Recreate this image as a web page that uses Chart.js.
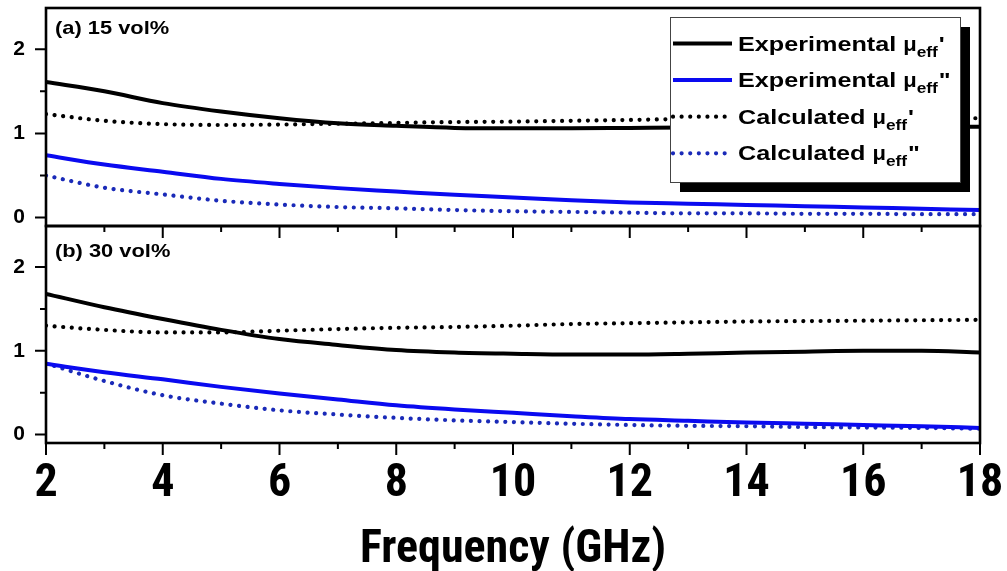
<!DOCTYPE html>
<html>
<head>
<meta charset="utf-8">
<script src="https://cdn.jsdelivr.net/npm/chart.js@4.4.1/dist/chart.umd.min.js"></script>
<style>
  html, body { margin: 0; padding: 0; background: #fff; }
  #wrap { position: relative; width: 1007px; height: 571px; }
  #wrap canvas { position: absolute; left: 0; top: 0; }
</style>
</head>
<body>
<div id="wrap">
  <canvas id="chartB" width="1007" height="571" style="width:1007px;height:571px"></canvas>
  <canvas id="chartA" width="1007" height="245" style="width:1007px;height:245px"></canvas>
</div>
<script>
// frequency grid (GHz)
const freq = [2, 3, 4, 5, 6, 7, 8, 9, 10, 11, 12, 13, 14, 15, 16, 17, 18];
const xTicks = [2, 4, 6, 8, 10, 12, 14, 16, 18];
const xMinor = [3, 5, 7, 9, 11, 13, 15, 17];
const yTicks = [0, 1, 2];
const yMinor = [0.5, 1.5];

// (a) 15 vol%
const expReA = [1.61, 1.50, 1.36, 1.26, 1.18, 1.12, 1.09, 1.065, 1.06, 1.06, 1.065, 1.07, 1.07, 1.075, 1.075, 1.08, 1.08];
const expImA = [0.74, 0.63, 0.545, 0.46, 0.40, 0.35, 0.31, 0.27, 0.24, 0.205, 0.18, 0.165, 0.15, 0.135, 0.12, 0.105, 0.09];
const calReA = [1.23, 1.15, 1.11, 1.10, 1.105, 1.115, 1.125, 1.135, 1.14, 1.15, 1.16, 1.17, 1.17, 1.175, 1.18, 1.18, 1.18];
const calImA = [0.50, 0.355, 0.275, 0.20, 0.155, 0.125, 0.11, 0.09, 0.075, 0.067, 0.058, 0.05, 0.05, 0.045, 0.045, 0.04, 0.04];

// (b) 30 vol%
const expReB = [1.68, 1.52, 1.38, 1.25, 1.14, 1.07, 1.01, 0.98, 0.965, 0.955, 0.955, 0.965, 0.98, 0.99, 1.0, 1.0, 0.98];
const expImB = [0.845, 0.745, 0.66, 0.57, 0.49, 0.42, 0.35, 0.30, 0.26, 0.22, 0.185, 0.165, 0.145, 0.13, 0.115, 0.10, 0.08];
const calReB = [1.30, 1.25, 1.22, 1.22, 1.24, 1.26, 1.275, 1.285, 1.30, 1.32, 1.33, 1.34, 1.35, 1.355, 1.36, 1.365, 1.37];
const calImB = [0.85, 0.64, 0.47, 0.37, 0.29, 0.24, 0.20, 0.17, 0.15, 0.13, 0.115, 0.105, 0.10, 0.09, 0.085, 0.08, 0.07];

const seriesNames = ["Experimental", "Experimental", "Calculated", "Calculated"];
const seriesPrimes = ["'", "\"", "'", "\""];
const panelLabels = ["(a) 15 vol%", "(b) 30 vol%"];
const xTitle = "Frequency (GHz)";

const styles = [
  { borderColor: "#000000", borderWidth: 4 },
  { borderColor: "#0a0af0", borderWidth: 4 },
  { borderColor: "#000000", borderWidth: 4.2, borderDash: [0.01, 8.6], borderCapStyle: "round" },
  { borderColor: "#1a2ab8", borderWidth: 4.2, borderDash: [0.01, 8.6], borderCapStyle: "round" }
];

const narrow = "'Roboto Condensed', 'Liberation Sans Narrow', 'Liberation Sans', sans-serif";
const sans = "'Liberation Sans', Arial, sans-serif";

function wideText(ctx, txt, x, y, sx) {
  ctx.save();
  ctx.translate(x, y);
  ctx.scale(sx, 1);
  ctx.fillText(txt, 0, 0);
  ctx.restore();
  return ctx.measureText(txt).width * sx;
}

// frame, tick marks and panel caption
const frameTicks = {
  id: "frameTicks",
  afterDraw(chart, args, opts) {
    const { ctx, chartArea: a, scales: { x, y } } = chart;
    ctx.save();
    ctx.strokeStyle = "#000";
    ctx.lineWidth = 2;
    ctx.beginPath();
    xTicks.forEach(v => { const px = x.getPixelForValue(v); ctx.moveTo(px, a.bottom); ctx.lineTo(px, a.bottom + 12); });
    xMinor.forEach(v => { const px = x.getPixelForValue(v); ctx.moveTo(px, a.bottom); ctx.lineTo(px, a.bottom + 6); });
    yTicks.forEach(v => { const py = y.getPixelForValue(v); ctx.moveTo(a.left, py); ctx.lineTo(a.left - 11, py); });
    yMinor.forEach(v => { const py = y.getPixelForValue(v); ctx.moveTo(a.left, py); ctx.lineTo(a.left - 6, py); });
    ctx.stroke();
    ctx.lineWidth = 2.6;
    ctx.strokeRect(a.left, a.top, a.right - a.left, a.bottom - a.top);
    ctx.fillStyle = "#000";
    ctx.font = "bold 19px " + sans;
    ctx.textBaseline = "alphabetic";
    wideText(ctx, opts.label, a.left + 9, a.top + opts.dy, 1.15);
    ctx.restore();
  }
};

// legend box with drop shadow
const legendBox = {
  id: "legendBox",
  afterDatasetsDraw(chart) {
    const { ctx, chartArea: a } = chart;
    const bx = a.right - 310, by = a.top + 9, bw = 290, bh = 165;
    ctx.save();
    ctx.fillStyle = "#000";
    ctx.fillRect(bx + 10, by + 10, bw, bh);
    ctx.fillStyle = "#fff";
    ctx.fillRect(bx, by, bw, bh);
    ctx.strokeStyle = "#444";
    ctx.lineWidth = 1;
    ctx.strokeRect(bx + 0.5, by + 0.5, bw, bh);
    chart.data.datasets.forEach((ds, i) => {
      const cy = by + 26.5 + i * 36.6;
      ctx.strokeStyle = ds.borderColor;
      ctx.lineWidth = ds.borderWidth;
      ctx.lineCap = ds.borderDash ? "round" : "butt";
      ctx.setLineDash(ds.borderDash || []);
      ctx.beginPath();
      ctx.moveTo(bx + 3, cy);
      ctx.lineTo(bx + 62, cy);
      ctx.stroke();
      ctx.setLineDash([]);
      ctx.fillStyle = "#000";
      ctx.textBaseline = "alphabetic";
      let tx = bx + 68;
      const base = cy + 7;
      ctx.font = "bold 20px " + sans;
      tx += wideText(ctx, seriesNames[i] + " ", tx, base, 1.26);
      tx += wideText(ctx, "\u03bc", tx, base, 1.1);
      ctx.font = "bold 15px " + sans;
      tx += wideText(ctx, "eff", tx, base + 6, 1.15);
      ctx.font = "bold 20px " + sans;
      wideText(ctx, seriesPrimes[i], tx + 1, base, 1.25);
    });
    ctx.restore();
  }
};

function makeChart(id, series, opts) {
  return new Chart(document.getElementById(id), {
    type: "line",
    data: {
      datasets: series.map((arr, i) => ({
        label: seriesNames[i] + " \u03bceff" + seriesPrimes[i],
        data: freq.map((f, k) => ({ x: f, y: arr[k] })),
        ...styles[i],
        pointRadius: 0,
        fill: false,
        cubicInterpolationMode: "monotone"
      }))
    },
    plugins: opts.legend ? [frameTicks, legendBox] : [frameTicks],
    options: {
      responsive: false,
      animation: false,
      devicePixelRatio: 1,
      layout: { padding: { top: opts.padTop, right: 27, left: 0, bottom: 0 } },
      plugins: {
        legend: { display: false },
        tooltip: { enabled: false },
        frameTicks: { label: opts.label, dy: opts.labelDy }
      },
      scales: {
        x: {
          type: "linear",
          min: 2,
          max: 18,
          grid: { display: false, drawTicks: false },
          border: { display: false },
          afterBuildTicks: s => { s.ticks = xTicks.map(v => ({ value: v })); },
          ticks: {
            display: opts.showX,
            color: "#000",
            padding: 14,
            maxRotation: 0,
            autoSkip: false,
            font: { family: narrow, size: 46, weight: "bold", lineHeight: 1.2 }
          },
          title: {
            display: opts.showX,
            text: xTitle,
            color: "#000",
            padding: { top: 0, bottom: -2 },
            font: { family: narrow, size: 46, weight: "bold", lineHeight: 1.0 }
          },
          afterFit: s => { s.height = opts.xHeight; s.paddingLeft = 0; s.paddingRight = 0; }
        },
        y: {
          type: "linear",
          min: -0.1,
          max: 2.49,
          grid: { display: false, drawTicks: false },
          border: { display: false },
          afterBuildTicks: s => { s.ticks = yTicks.map(v => ({ value: v })); },
          ticks: {
            color: "#000",
            padding: 21,
            font: { family: sans, size: 21, weight: "bold" }
          },
          afterFit: s => { s.width = 46; s.paddingTop = 0; s.paddingBottom = 0; }
        }
      }
    }
  });
}

makeChart("chartB", [expReB, expImB, calReB, calImB], {
  padTop: 226, xHeight: 128, showX: true, label: panelLabels[1], labelDy: 31, legend: false
});
makeChart("chartA", [expReA, expImA, calReA, calImA], {
  padTop: 8, xHeight: 19, showX: false, label: panelLabels[0], labelDy: 26, legend: true
});
</script>
</body>
</html>
